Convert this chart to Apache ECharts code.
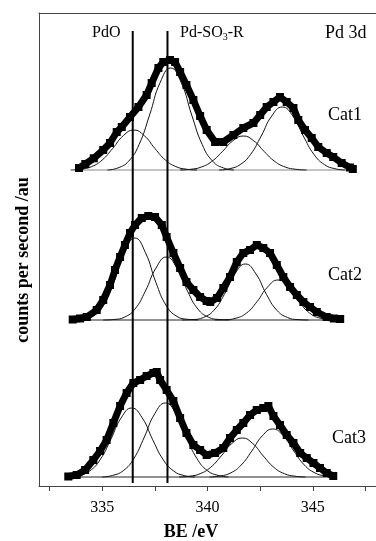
<!DOCTYPE html>
<html>
<head>
<meta charset="utf-8">
<style>
  html, body { margin: 0; padding: 0; background: #fff; }
  #chart { width: 376px; height: 541px; }
</style>
<script src="https://cdn.jsdelivr.net/npm/echarts@6/dist/echarts.min.js"></script>
</head>
<body>
<div id="chart"></div>
<script>
// measured spectra: [BE (eV), counts above the spectrum's own baseline]
const cat1Data = [[333.9,2],[334.2,6],[334.6,11.7],[335.05,20],[335.37,27],[335.69,38],[335.93,43],[336.32,53],[336.72,63],[337.11,75],[337.35,87],[337.67,102],[337.9,108],[338.22,110],[338.46,108],[338.7,98],[339.0,85],[339.33,70],[339.65,54],[339.96,40],[340.36,28],[340.75,28],[341.23,35],[341.7,42],[342.18,47],[342.5,55],[342.81,63],[343.13,68],[343.44,73],[343.76,68],[344.08,62],[344.31,50],[344.63,40],[344.95,32],[345.26,23],[345.66,17],[345.97,13],[346.37,7],[346.77,2.5],[346.9,1]];
const cat2Data = [[333.6,0.5],[333.95,1.5],[334.27,3],[334.74,10],[335.05,20],[335.37,35],[335.61,50],[335.85,63],[336.08,75],[336.32,87],[336.56,95],[336.88,102],[337.19,104],[337.51,103],[337.83,95],[338.06,83],[338.38,67],[338.7,52],[339.0,38],[339.33,30],[339.65,23],[339.96,19],[340.13,18],[340.45,22],[340.75,32],[341.07,43],[341.39,58],[341.7,67],[342.02,70],[342.34,75],[342.65,72],[342.97,67],[343.29,55],[343.6,43],[343.92,33],[344.24,25],[344.55,18],[344.87,13],[345.19,8],[345.66,3],[346.0,1.5],[346.3,1]];
const cat3Data = [[333.39,0.5],[333.79,2],[334.19,7],[334.58,17],[334.9,26],[335.21,37],[335.53,54],[335.85,71],[336.16,84],[336.48,94],[336.8,97],[337.11,101],[337.43,104],[337.59,105],[337.75,97],[338.06,87],[338.38,76],[338.7,59],[339.0,44],[339.33,32],[339.65,27],[339.96,22],[340.36,24],[340.75,29],[341.07,39],[341.39,47],[341.7,54],[342.02,62],[342.34,67],[342.65,69],[342.89,71],[343.13,61],[343.44,52],[343.76,42],[344.08,34],[344.4,24],[344.71,19],[345.03,14],[345.34,9],[345.66,4],[345.97,1]];

// fitted components (PdO 3d5/2, Pd-SO3-R 3d5/2, PdO 3d3/2, Pd-SO3-R 3d3/2)
const cat1PdO = [[333.5,0],[334,0.8],[334.5,3.4],[335,10],[335.5,21.6],[336,34.3],[336.5,40],[337,34.3],[337.5,21.6],[338,10],[338.5,3.4],[339,0.8],[339.5,0]];
const cat1Sulf = [[335.25,0],[335.75,2.1],[336.25,8.7],[336.75,25.4],[337.25,55],[337.75,87.4],[338.25,102],[338.75,87.4],[339.25,55],[339.75,25.4],[340.25,8.7],[340.75,2.1],[341.25,0]];
const cat1PdO2 = [[338.7,0],[339.2,0.7],[339.7,2.9],[340.2,8.5],[340.7,18.3],[341.2,29.1],[341.7,34],[342.2,29.1],[342.7,18.3],[343.2,8.5],[343.7,2.9],[344.2,0.7],[344.7,0]];
const cat1Sulf2 = [[340.55,0],[341.05,1.3],[341.55,5.4],[342.05,15.7],[342.55,34],[343.05,54],[343.55,63],[344.05,54],[344.55,34],[345.05,15.7],[345.55,5.4],[346.05,1.3],[346.55,0]];

const cat2PdO = [[333.55,0],[334.05,0.7],[334.55,3.6],[335.05,14.1],[335.55,37.6],[336.05,67.5],[336.55,82],[337.05,67.5],[337.55,37.6],[338.05,14.1],[338.55,3.6],[339.05,0.7],[339.55,0]];
const cat2Sulf = [[335.05,0],[335.55,0.5],[336.05,2.8],[336.55,10.8],[337.05,28.9],[337.55,51.8],[338.05,63],[338.55,51.8],[339.05,28.9],[339.55,10.8],[340.05,2.8],[340.55,0.5],[341.05,0]];
const cat2PdO2 = [[338.8,0],[339.3,0.4],[339.8,2.5],[340.3,9.6],[340.8,25.6],[341.3,46.1],[341.8,56],[342.3,46.1],[342.8,25.6],[343.3,9.6],[343.8,2.5],[344.3,0.4],[344.8,0]];
const cat2Sulf2 = [[340.35,0],[340.85,0.3],[341.35,1.8],[341.85,6.9],[342.35,18.3],[342.85,32.9],[343.35,40],[343.85,32.9],[344.35,18.3],[344.85,6.9],[345.35,1.8],[345.85,0.3],[346.35,0]];

const cat3PdO = [[333.4,0],[333.9,1.4],[334.4,5.9],[334.9,17.2],[335.4,37.2],[335.9,59.1],[336.4,69],[336.9,59.1],[337.4,37.2],[337.9,17.2],[338.4,5.9],[338.9,1.4],[339.4,0]];
const cat3Sulf = [[335,0],[335.5,1.6],[336,6.3],[336.5,18.4],[337,39.9],[337.5,63.4],[338,74],[338.5,63.4],[339,39.9],[339.5,18.4],[340,6.3],[340.5,1.6],[341,0]];
const cat3PdO2 = [[338.65,0],[339.15,0.8],[339.65,3.3],[340.15,9.7],[340.65,21],[341.15,33.4],[341.65,39],[342.15,33.4],[342.65,21],[343.15,9.7],[343.65,3.3],[344.15,0.8],[344.65,0]];
const cat3Sulf2 = [[340.1,0],[340.6,1],[341.1,4.1],[341.6,12],[342.1,25.9],[342.6,41.1],[343.1,48],[343.6,41.1],[344.1,25.9],[344.6,12],[345.1,4.1],[345.6,1],[346.1,0]];

// vertical offset of each stacked spectrum
const cat1Offset = 316;
const cat2Offset = 166;
const cat3Offset = 9;

// reference positions (eV) and their vertical span
const pdoLine = 336.45;
const sulfLine = 338.1;
const lineSpan = [3, 455];

const xTicks = [332.5, 335, 337.5, 340, 342.5, 345, 347.5];
const xLabels = [335, 340, 345];

const serif = '"Liberation Serif", "Times New Roman", serif';
const ink = '#000';

const chart = echarts.init(document.getElementById('chart'));

const lift = (pts, off) => pts.map(p => [p[0], p[1] + off]);

const spectra = [
  { data: cat1Data, off: cat1Offset, comps: [cat1PdO, cat1Sulf, cat1PdO2, cat1Sulf2], base: '#888' },
  { data: cat2Data, off: cat2Offset, comps: [cat2PdO, cat2Sulf, cat2PdO2, cat2Sulf2], base: '#222' },
  { data: cat3Data, off: cat3Offset, comps: [cat3PdO, cat3Sulf, cat3PdO2, cat3Sulf2], base: '#222' },
];

const series = [];
spectra.forEach(s => {
  // flat baseline under the spectrum
  const first = s.data[0][0];
  const last = s.data[s.data.length - 1][0];
  series.push({
    type: 'line', data: [[first, s.off], [last, s.off]], symbol: 'none',
    lineStyle: { color: s.base, width: 1 }, silent: true, z: 1,
  });
  s.comps.forEach(c => {
    series.push({
      type: 'line', data: lift(c, s.off), symbol: 'none', smooth: 0.5,
      lineStyle: { color: '#111', width: 1 }, silent: true, z: 2,
    });
  });
  series.push({
    type: 'line', data: lift(s.data, s.off),
    symbol: 'rect', symbolSize: 8, showAllSymbol: true,
    itemStyle: { color: ink }, lineStyle: { color: ink, width: 7 }, z: 3,
  });
});

[pdoLine, sulfLine].forEach(x => {
  series.push({
    type: 'line', data: [[x, lineSpan[0]], [x, lineSpan[1]]], symbol: 'none',
    lineStyle: { color: ink, width: 2 }, silent: true, z: 4,
  });
});

const option = {
  animation: false,
  grid: { left: 39, right: 0, top: 13, bottom: 55 },
  xAxis: [
    {
      type: 'value', min: 332, max: 348,
      axisLine: { lineStyle: { color: '#444', width: 1 } },
      axisTick: { customValues: xTicks, length: 5, lineStyle: { color: '#444' } },
      axisLabel: { customValues: xLabels, color: ink, fontFamily: serif, fontSize: 16, margin: 14 },
      splitLine: { show: false },
    },
    {
      type: 'value', position: 'top', min: 332, max: 348,
      axisLine: { show: true, lineStyle: { color: '#444', width: 1 } },
      axisTick: { show: false }, axisLabel: { show: false }, splitLine: { show: false },
    },
  ],
  yAxis: {
    type: 'value', min: 0, max: 473,
    axisLine: { show: true, lineStyle: { color: '#444', width: 1 } },
    axisTick: { show: false }, axisLabel: { show: false }, splitLine: { show: false },
  },
  graphic: [
    { type: 'text', x: 92, y: 33, style: { text: 'PdO', fontFamily: serif, fontSize: 16, fill: ink, verticalAlign: 'middle' } },
    {
      type: 'text', x: 180, y: 33,
      style: {
        text: 'Pd-SO{s|3}-R', fontFamily: serif, fontSize: 16, fill: ink, verticalAlign: 'middle',
        rich: { s: { fontFamily: serif, fontSize: 10, fill: ink, padding: [9, 0, 0, 0] } },
      },
    },
    { type: 'text', x: 325, y: 33, style: { text: 'Pd 3d', fontFamily: serif, fontSize: 18, fill: ink, verticalAlign: 'middle' } },
    { type: 'text', x: 328, y: 115, style: { text: 'Cat1', fontFamily: serif, fontSize: 18, fill: ink, verticalAlign: 'middle' } },
    { type: 'text', x: 328, y: 275, style: { text: 'Cat2', fontFamily: serif, fontSize: 18, fill: ink, verticalAlign: 'middle' } },
    { type: 'text', x: 332, y: 438, style: { text: 'Cat3', fontFamily: serif, fontSize: 18, fill: ink, verticalAlign: 'middle' } },
    { type: 'text', x: 191, y: 532, style: { text: 'BE /eV', fontFamily: serif, fontSize: 18, fontWeight: 'bold', fill: ink, align: 'center', verticalAlign: 'middle' } },
    {
      type: 'text', x: 23, y: 260, rotation: Math.PI / 2,
      style: { text: 'counts per second /au', fontFamily: serif, fontSize: 18, fontWeight: 'bold', fill: ink, align: 'center', verticalAlign: 'middle' },
    },
  ],
  series: series,
};

chart.setOption(option);
</script>
</body>
</html>
